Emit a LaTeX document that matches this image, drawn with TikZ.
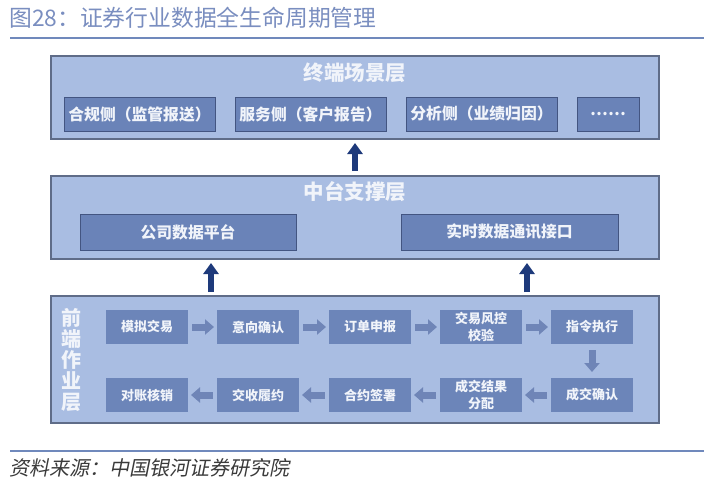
\documentclass[tikz,border=0pt]{standalone}
\usepackage{fontspec}
\setmainfont{Liberation Serif}
\newfontfamily\cjk{Noto Sans CJK SC}
\newfontfamily\cjkslant[FakeSlant=0.2]{Noto Sans CJK SC}
\usetikzlibrary{arrows.meta,calc}
\definecolor{layerfill}{HTML}{A9BDE2}
\definecolor{layerdraw}{HTML}{5F6C88}
\definecolor{boxfill}{HTML}{6A83B8}
\definecolor{boxdraw}{HTML}{435581}
\definecolor{procfill}{HTML}{6C85B9}
\definecolor{navyarr}{HTML}{1E3A7B}
\definecolor{grayarr}{HTML}{6F85B7}
\definecolor{titlecol}{HTML}{7A8EC0}
\definecolor{rulecol}{HTML}{7089BC}
\definecolor{txtw}{HTML}{F1F4FA}
\definecolor{srccol}{HTML}{3A3A3A}
\tikzset{
  layer/.style={draw=layerdraw, line width=1.1pt, fill=layerfill, anchor=north west, inner sep=0pt, outer sep=0pt, minimum width=608pt},
  layertitle/.style={text=txtw, font=\cjk\bfseries\fontsize{20.5}{20.5}\selectfont, inner sep=0pt},
  subbox/.style={draw=boxdraw, line width=0.9pt, fill=boxfill, anchor=north west, inner sep=0pt, outer sep=0pt, text=txtw, font=\cjk\bfseries\fontsize{15.8}{15.8}\selectfont},
  procbox/.style={fill=procfill, anchor=north west, inner sep=0pt, outer sep=0pt, minimum width=82pt, minimum height=34pt, text=txtw, align=center, font=\cjk\bfseries\fontsize{13}{17}\selectfont},
  navyarrow/.style={draw=navyarr, line width=6pt, -{Triangle[width=15pt,length=11pt]}},
  grayarrow/.style={draw=grayarr, line width=7pt, -{Triangle[width=15pt,length=9pt]}},
}
\begin{document}
\begin{tikzpicture}[x=1pt,y=-1pt]
\useasboundingbox[fill=white] (0,0) rectangle (704,488);
% title
\node[anchor=west, inner sep=0pt, text=titlecol, font=\cjk\fontsize{22.8}{22.8}\selectfont] (title) at (9,18) {图28：证券行业数据全生命周期管理};
\coordinate (r1) at (10,38);
\coordinate (r2) at (704,38);
\draw[rulecol, line width=2.5pt] (r1) -- (r2);
% top layer
\node[layer, minimum height=83pt] (top) at (51,56) {};
\node[layertitle] (toptitle) at (355,73) {终端场景层};
\node[subbox, minimum width=151pt, minimum height=34pt] (s1) at (64,97) {合规侧（监管报送）};
\node[subbox, minimum width=151pt, minimum height=34pt] (s2) at (235,97) {服务侧（客户报告）};
\node[subbox, minimum width=151pt, minimum height=34pt] (s3) at (406,97) {分析侧（业绩归因）};
\node[subbox, minimum width=62pt, minimum height=34pt] (s4) at (577,97) {……};
% middle layer
\node[layer, minimum height=83pt] (mid) at (51,176) {};
\node[layertitle] (midtitle) at (355,192) {中台支撑层};
\node[subbox, minimum width=216pt, minimum height=36pt] (m1) at (80,214) {公司数据平台};
\node[subbox, minimum width=217pt, minimum height=36pt] (m2) at (401,214) {实时数据通讯接口};
% bottom layer
\node[layer, minimum height=127pt] (bot) at (51,296) {};
\node[text=txtw, inner sep=0pt, align=center, font=\cjk\bfseries\fontsize{20}{21}\selectfont] (bottitle) at (71,360) {前\\端\\作\\业\\层};
\node[procbox] (p1) at (106,310) {模拟交易};
\node[procbox] (p2) at (217,310) {意向确认};
\node[procbox] (p3) at (329,310) {订单申报};
\node[procbox] (p4) at (440,310) {交易风控\\校验};
\node[procbox] (p5) at (551,310) {指令执行};
\node[procbox] (q1) at (106,378) {对账核销};
\node[procbox] (q2) at (217,378) {交收履约};
\node[procbox] (q3) at (329,378) {合约签署};
\node[procbox] (q4) at (440,378) {成交结果\\分配};
\node[procbox] (q5) at (551,378) {成交确认};
% process arrows
\draw[grayarrow, shorten <=4pt, shorten >=3pt] (p1) -- (p2);
\draw[grayarrow, shorten <=4pt, shorten >=3pt] (p2) -- (p3);
\draw[grayarrow, shorten <=4pt, shorten >=3pt] (p3) -- (p4);
\draw[grayarrow, shorten <=4pt, shorten >=3pt] (p4) -- (p5);
\draw[grayarrow, shorten <=6pt, shorten >=6pt] (p5) -- (q5);
\draw[grayarrow, shorten <=4pt, shorten >=3pt] (q5) -- (q4);
\draw[grayarrow, shorten <=4pt, shorten >=3pt] (q4) -- (q3);
\draw[grayarrow, shorten <=4pt, shorten >=3pt] (q3) -- (q2);
\draw[grayarrow, shorten <=4pt, shorten >=3pt] (q2) -- (q1);
% layer arrows
\coordinate (a0) at (355,0);
\coordinate (a1) at (211,0);
\coordinate (a2) at (527,0);
\draw[navyarrow, shorten <=5pt, shorten >=4pt] (mid.north -| a0) -- (top.south -| a0);
\draw[navyarrow, shorten <=4pt, shorten >=4pt] (bot.north -| a1) -- (mid.south -| a1);
\draw[navyarrow, shorten <=4pt, shorten >=4pt] (bot.north -| a2) -- (mid.south -| a2);
% source
\coordinate (b1) at (10,451);
\coordinate (b2) at (704,451);
\draw[rulecol, line width=2.5pt] (b1) -- (b2);
\node[anchor=west, inner sep=0pt, text=srccol, font=\cjkslant\fontsize{20}{20}\selectfont] (src) at (9,468) {资料来源：中国银河证券研究院};
\end{tikzpicture}
\end{document}
